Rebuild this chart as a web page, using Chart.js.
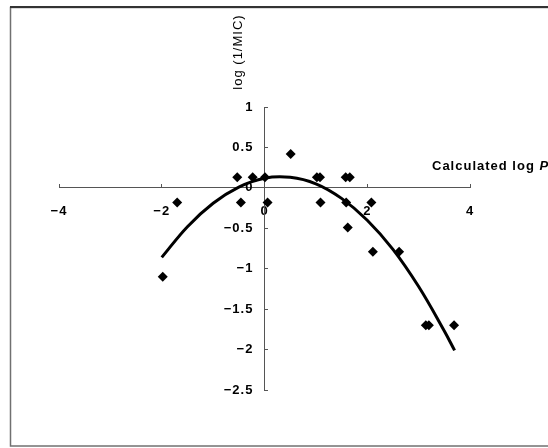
<!DOCTYPE html>
<html>
<head>
<meta charset="utf-8">
<style>
  html, body { margin: 0; padding: 0; background: #fff; }
  #wrap { width: 548px; height: 448px; }
</style>
<script src="https://cdn.jsdelivr.net/npm/chart.js@4.4.0/dist/chart.umd.min.js"></script>
</head>
<body>
<div id="wrap"><canvas id="lipo-chart" width="548" height="448"></canvas></div>
<script>
// observed compounds: calculated log P vs log(1/MIC)
const obsX = [-1.98, -1.70, -0.53, -0.46, -0.23, 0.01, 0.06, 0.51, 1.02, 1.08, 1.09, 1.58, 1.66, 1.59, 1.62, 2.08, 2.11, 2.62, 3.14, 3.20, 3.69];
const obsY = [-1.10, -0.18, 0.13, -0.18, 0.13, 0.13, -0.18, 0.42, 0.13, 0.13, -0.18, 0.13, 0.13, -0.18, -0.49, -0.18, -0.79, -0.79, -1.70, -1.70, -1.70];

// parabolic trend line
const fitX = [-2, -1.5, -1, -0.5, 0, 0.5, 1, 1.5, 2, 2.5, 3, 3.5, 3.7];
const fitY = [-0.86, -0.48, -0.19, 0.01, 0.12, 0.13, 0.05, -0.13, -0.40, -0.76, -1.22, -1.77, -2.01];

const xTitle = 'Calculated log ';
const xTitleVar = 'P';
const yTitle = 'log (1/MIC)';

const tickFont = { family: '"Liberation Sans", Arial, sans-serif', size: 13, weight: 'bold' };
const minus = v => (v < 0 ? '\u2212' : '') + Math.abs(v);

const frameAndTitles = {
    id: 'frameAndTitles',
    beforeDraw(chart) {
        const ctx = chart.ctx;
        ctx.save();
        ctx.strokeStyle = '#707070';
        ctx.lineWidth = 1.5;
        ctx.strokeRect(10.5, 7.5, 600, 438.5);
        ctx.strokeStyle = '#333';
        ctx.lineWidth = 2;
        ctx.beginPath();
        ctx.moveTo(10, 7);
        ctx.lineTo(548, 7);
        ctx.stroke();
        ctx.restore();
        // wide glyphs like the original office font
        ctx.letterSpacing = '1px';
    },
    afterDraw(chart) {
        const { ctx, scales: { x, y } } = chart;
        const x0 = x.getPixelForValue(0);
        const y0 = y.getPixelForValue(0);
        ctx.save();
        ctx.fillStyle = '#000';
        ctx.textBaseline = 'middle';
        ctx.textAlign = 'left';
        ctx.letterSpacing = '1px';
        ctx.font = 'bold 13px "Liberation Sans", Arial, sans-serif';
        const tx = x.right - 38;
        const ty = y0 - 21;
        ctx.fillText(xTitle, tx, ty);
        const w = ctx.measureText(xTitle).width;
        ctx.font = 'italic bold 13px "Liberation Sans", Arial, sans-serif';
        ctx.fillText(xTitleVar, tx + w, ty);

        ctx.translate(x0 - 26, y.top - 55);
        ctx.rotate(-Math.PI / 2);
        ctx.textAlign = 'center';
        ctx.font = '13px "Liberation Sans", Arial, sans-serif';
        ctx.fillText(yTitle, 0, 0);
        ctx.restore();
    }
};

const chart = new Chart(document.getElementById('lipo-chart'), {
    type: 'scatter',
    data: {
        datasets: [
            {
                label: 'trend',
                data: fitX.map((v, i) => ({ x: v, y: fitY[i] })),
                showLine: true,
                borderColor: '#000',
                borderWidth: 3,
                pointRadius: 0,
                tension: 0.4,
                order: 1
            },
            {
                label: 'compounds',
                data: obsX.map((v, i) => ({ x: v, y: obsY[i] })),
                pointStyle: 'rectRot',
                pointRadius: 5,
                backgroundColor: '#000',
                borderColor: '#000',
                borderWidth: 0,
                order: 2
            }
        ]
    },
    options: {
        responsive: false,
        animation: false,
        devicePixelRatio: 1,
        layout: { padding: { left: 59, right: 78, top: 107, bottom: 58 } },
        plugins: { legend: { display: false }, tooltip: { enabled: false } },
        scales: {
            x: {
                type: 'linear',
                min: -4,
                max: 4,
                position: { y: 0 },
                border: { display: true, color: '#555', width: 1 },
                grid: { display: true, drawOnChartArea: false, drawTicks: true, tickLength: -4, color: '#555' },
                ticks: { stepSize: 2, padding: 20, color: '#000', font: tickFont, callback: minus }
            },
            y: {
                type: 'linear',
                min: -2.5,
                max: 1,
                position: { x: 0 },
                border: { display: true, color: '#555', width: 1 },
                grid: { display: true, drawOnChartArea: false, drawTicks: true, tickLength: -4, color: '#555' },
                ticks: { stepSize: 0.5, padding: 0, color: '#000', font: tickFont, callback: v => minus(v) + '\u2002\u2009' }
            }
        }
    },
    plugins: [frameAndTitles]
});
</script>
</body>
</html>
